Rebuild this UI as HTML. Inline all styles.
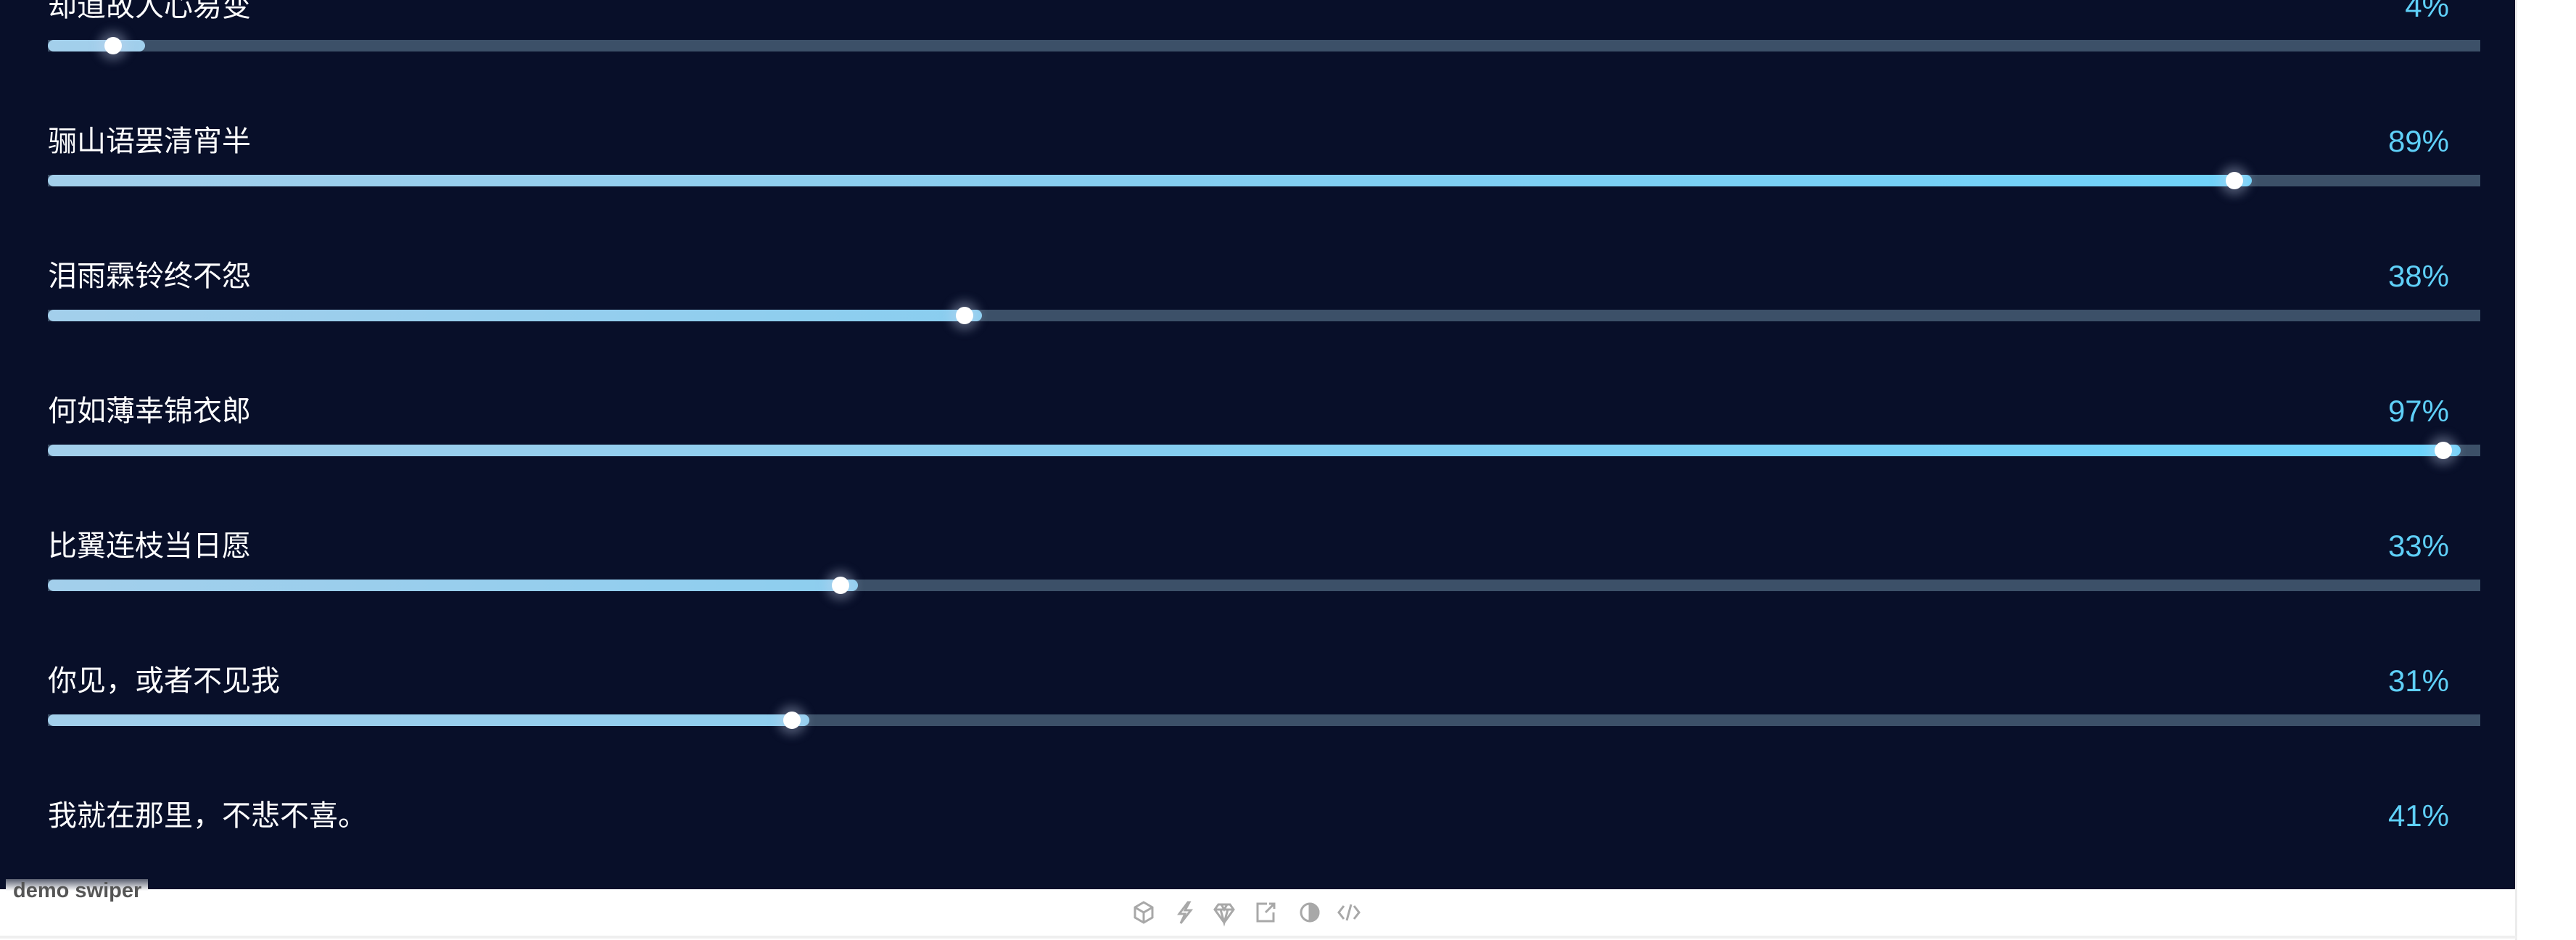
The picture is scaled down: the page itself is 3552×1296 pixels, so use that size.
<!DOCTYPE html>
<html><head><meta charset="utf-8">
<style>
html,body{margin:0;padding:0;width:3552px;height:1296px;overflow:hidden;background:#fff;}
#panel{position:absolute;left:0;top:0;width:3468px;height:1226px;background:#080f29;overflow:hidden;}
#edge{position:absolute;left:3468px;top:0;width:3px;height:1296px;background:#ececec;}
#bottomline{position:absolute;left:0;top:1290px;width:3471px;height:4px;background:#efefef;}
.lbl{position:absolute;left:66px;font-family:"Liberation Sans","Noto Sans CJK SC",sans-serif;font-size:40px;color:#fff;line-height:48px;white-space:nowrap;}
.pct{position:absolute;right:91px;font-family:"Liberation Sans",sans-serif;font-size:42px;color:#5fd0f8;line-height:48px;text-align:right;}
.track{position:absolute;left:66px;width:3354px;height:16px;background:#3c5068;}
.fill{position:absolute;left:0;top:0;height:16px;border-radius:8px;}
.knob{position:absolute;width:24px;height:24px;border-radius:50%;background:#fff;top:-4px;box-shadow:0 0 14px 8px rgba(200,215,240,0.35);}
#demo{position:absolute;left:8px;top:1212px;width:196px;height:36px;background:linear-gradient(#5a5f70,#fff 45%);font-family:"Liberation Sans",sans-serif;font-weight:bold;font-size:29px;color:#555;line-height:32px;padding-left:10px;box-sizing:border-box;white-space:nowrap;}
</style></head><body>
<div id="panel"></div>
<div id="edge"></div>
<div id="bottomline"></div>
<div id="demo">demo swiper</div>
<svg id="icons" width="3552" height="40" style="position:absolute;left:0;top:1240px" fill="none" stroke="#a8a8a8" stroke-width="3">
 <g transform="translate(1577,18)"><path d="M0,-14 L12,-7 L12,7 L0,14 L-12,7 L-12,-7 Z M-12,-7 L0,0 L12,-7 M0,0 L0,14"/></g>
 <g transform="translate(1632,18)"><path d="M6,-14 L-6,2 L2,2 L-4,15 L10,-3 L2,-3 L8,-14 Z"/></g>
 <g transform="translate(1688,18)"><path d="M-8,-11 L8,-11 L13,-4 L0,14 L-13,-4 Z M-13,-4 L13,-4 M-4,-11 L0,-4 L4,-11 M-5,-4 L0,14 L5,-4"/></g>
 <g transform="translate(1745,18)"><path d="M2,-12 L-11,-12 L-11,12 L11,12 L11,0 M0,0 L12,-12 M5,-12 L12,-12 L12,-5"/></g>
 <g transform="translate(1806,18)"><circle r="12"/><path d="M0,-12 A12,12 0 0 1 0,12 Z" fill="#a8a8a8"/></g>
 <g transform="translate(1860,18)"><path d="M-7,-9 L-14,0 L-7,9 M7,-9 L14,0 L7,9 M3,-11 L-3,11"/></g>
</svg>
<script>
const labels=["却道故人心易变","骊山语罢清宵半","泪雨霖铃终不怨","何如薄幸锦衣郎","比翼连枝当日愿","你见，或者不见我","我就在那里，不悲不喜。"];
const values=[4,89,38,97,33,31,41];
const barValues=[4,90.6,38.4,99.2,33.3,31.3,null];
const panel=document.getElementById('panel');
const TRACK_W=3354, ROW0=63, PITCH=186;
function xScale(v){return v/100*TRACK_W;}
function rowY(i){return ROW0+i*PITCH;}
labels.forEach((t,i)=>{
  const y=rowY(i);
  const l=document.createElement('div');
  l.className='lbl';
  
  
  l.style.top=(y-78)+'px';
  l.textContent=t;
  panel.appendChild(l);
  const p=document.createElement('div');
  p.className='pct';
  
  
  p.style.top=(y-78)+'px';
  p.textContent=values[i]+'%';
  panel.appendChild(p);
  if(barValues[i]===null)return;
  const tr=document.createElement('div');
  tr.className='track';
  
  
  tr.style.top=(y-8)+'px';
  const w=xScale(barValues[i]);
  const f=document.createElement('div');
  f.className='fill';
  
  
  f.style.width=w+'px';
  f.style.background='linear-gradient(90deg,#a3cfeb 0px,#85cdf0 '+(TRACK_W*0.45)+'px,#6bd3fb '+TRACK_W+'px)';
  f.style.backgroundSize=TRACK_W+'px 16px';
  tr.appendChild(f);
  const k=document.createElement('div');
  k.className='knob';
  
  
  k.style.left=(w<200?(w-56):(w-36))+'px';
  tr.appendChild(k);
  panel.appendChild(tr);
});
</script>
</body></html>
